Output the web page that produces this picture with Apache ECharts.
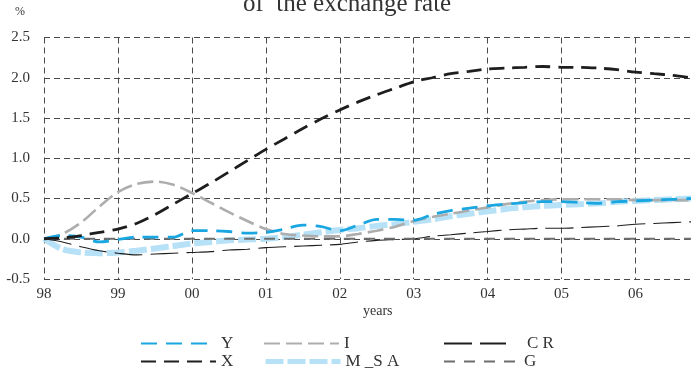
<!DOCTYPE html>
<html>
<head>
<meta charset="utf-8">
<script src="https://cdn.jsdelivr.net/npm/echarts@6/dist/echarts.min.js"></script>
<style>
  html, body { margin: 0; padding: 0; background: #ffffff; }
  #chart { width: 691px; height: 374px; }
</style>
</head>
<body>
<div id="chart"></div>
<script>
// Quarterly horizon, 1998Q1 .. 2006Q4
const quarters = [
  '98Q1','98Q2','98Q3','98Q4','99Q1','99Q2','99Q3','99Q4',
  '00Q1','00Q2','00Q3','00Q4','01Q1','01Q2','01Q3','01Q4',
  '02Q1','02Q2','02Q3','02Q4','03Q1','03Q2','03Q3','03Q4',
  '04Q1','04Q2','04Q3','04Q4','05Q1','05Q2','05Q3','05Q4',
  '06Q1','06Q2','06Q3','06Q4'
];
const yTicks = [-0.5, 0.0, 0.5, 1.0, 1.5, 2.0, 2.5];

// Responses, % deviation from baseline
const valuesY = [0, 0.04, 0.02, -0.04, -0.01, 0.02, 0.02, 0.02, 0.10, 0.10, 0.09, 0.07,
  0.08, 0.12, 0.17, 0.15, 0.10, 0.17, 0.24, 0.24, 0.23, 0.30, 0.35, 0.38,
  0.41, 0.43, 0.45, 0.46, 0.46, 0.45, 0.44, 0.46, 0.47, 0.48, 0.49, 0.50];
const valuesX = [0, 0.01, 0.04, 0.08, 0.12, 0.19, 0.30, 0.43, 0.56, 0.69, 0.83, 0.97,
  1.11, 1.24, 1.37, 1.49, 1.60, 1.70, 1.79, 1.87, 1.95, 2.00, 2.05, 2.08,
  2.11, 2.12, 2.13, 2.14, 2.13, 2.13, 2.12, 2.10, 2.07, 2.05, 2.03, 2.00];
const valuesI = [0, 0.06, 0.20, 0.40, 0.58, 0.68, 0.71, 0.67, 0.57, 0.45, 0.33, 0.22,
  0.12, 0.06, 0.04, 0.03, 0.03, 0.06, 0.10, 0.15, 0.22, 0.27, 0.31, 0.35,
  0.39, 0.43, 0.46, 0.48, 0.49, 0.49, 0.49, 0.49, 0.48, 0.48, 0.48, 0.48];
const valuesMSA = [0, -0.13, -0.17, -0.18, -0.17, -0.15, -0.12, -0.09, -0.06, -0.04, -0.02, -0.01,
  0.00, 0.02, 0.05, 0.08, 0.11, 0.13, 0.16, 0.18, 0.21, 0.24, 0.28, 0.31,
  0.34, 0.37, 0.39, 0.41, 0.42, 0.43, 0.44, 0.46, 0.47, 0.48, 0.49, 0.50];
const valuesCR = [0, -0.04, -0.10, -0.15, -0.18, -0.20, -0.19, -0.18, -0.17, -0.16, -0.14, -0.13,
  -0.11, -0.10, -0.09, -0.08, -0.07, -0.04, -0.02, -0.01, 0.00, 0.03, 0.05, 0.07,
  0.09, 0.11, 0.12, 0.13, 0.13, 0.14, 0.15, 0.16, 0.18, 0.19, 0.20, 0.21];
const valuesG = [0, 0, 0, 0, 0, 0, 0, 0, 0, 0, 0, 0,
  0, 0, 0, 0, 0, 0, 0, 0, 0, 0, 0, 0,
  0, 0, 0, 0, 0, 0, 0, 0, 0, 0, 0, 0];

const SERIF = '"Liberation Serif", "DejaVu Serif", serif';
const TEXT = '#333333';
const GRID_LINE = { color: '#4a4a4a', width: 1, type: [6, 4] };

function lineSeries(name, data, color, width, dash, z) {
  return {
    name: name,
    type: 'line',
    data: data,
    symbol: 'none',
    smooth: 0.3,
    z: z,
    lineStyle: { color: color, width: width, type: dash },
    itemStyle: { color: color },
    emphasis: { disabled: true }
  };
}

const legendText = { fontFamily: SERIF, fontSize: 17, color: TEXT, lineHeight: 16 };

// one legend block per entry so each key sits in its own column
function legendItem(name, left, top, width, text, line) {
  const block = {
    data: [name],
    left: left,
    top: top,
    padding: 0,
    itemWidth: width,
    itemHeight: 16,
    selectedMode: false,
    itemStyle: { opacity: 0 },
    textStyle: Object.assign({}, legendText, text || {})
  };
  if (line) block.lineStyle = line;
  return block;
}

const chart = echarts.init(document.getElementById('chart'));
chart.setOption({
  animation: false,
  backgroundColor: '#ffffff',
  grid: { left: 44, right: 0, top: 37.5, bottom: 95, containLabel: false },
  xAxis: {
    type: 'category',
    data: quarters,
    boundaryGap: false,
    axisLine: { show: false },
    axisTick: { show: false },
    axisLabel: {
      interval: 3,
      margin: 8,
      fontFamily: SERIF,
      fontSize: 15,
      color: TEXT,
      formatter: v => v.slice(0, 2)
    },
    splitLine: { show: true, interval: 3, lineStyle: GRID_LINE }
  },
  yAxis: {
    type: 'value',
    min: yTicks[0],
    max: yTicks[yTicks.length - 1],
    interval: 0.5,
    axisLine: { show: false },
    axisTick: { show: false },
    axisLabel: {
      margin: 14,
      fontFamily: SERIF,
      fontSize: 15,
      color: TEXT,
      formatter: v => v.toFixed(1)
    },
    splitLine: { show: true, lineStyle: GRID_LINE }
  },
  legend: [
    legendItem('Y', 140, 335, 75),
    legendItem('I', 263, 335, 75),
    legendItem('C R', 443, 335, 62, { padding: [0, 0, 0, 16] }),
    legendItem('X', 140, 353, 75),
    legendItem('M _S A', 263, 353, 75, null, { width: 5 }),
    legendItem('G', 443, 353, 75)
  ],
  graphic: [
    { type: 'text', left: 243, top: -8, silent: true,
      style: { text: 'of  the exchange rate', font: '25px ' + SERIF, fill: TEXT } },
    { type: 'text', left: 15, top: 6, silent: true,
      style: { text: '%', font: '12px ' + SERIF, fill: TEXT } },
    { type: 'text', left: 363, top: 304, silent: true,
      style: { text: 'years', font: '14px ' + SERIF, fill: TEXT } }
  ],
  series: [
    lineSeries('M _S A', valuesMSA, '#b6e1f6', 6, [18, 4], 2),
    lineSeries('I', valuesI, '#adadad', 2.6, [16, 6], 3),
    lineSeries('C R', valuesCR, '#1e1e1e', 1.1, [28, 8], 4),
    lineSeries('G', valuesG, '#6e6e6e', 2.2, [11, 9], 5),
    lineSeries('Y', valuesY, '#1aa7e1', 2.8, [16, 9], 6),
    lineSeries('X', valuesX, '#1e1e1e', 2.8, [15, 8], 7)
  ]
});
</script>
</body>
</html>
